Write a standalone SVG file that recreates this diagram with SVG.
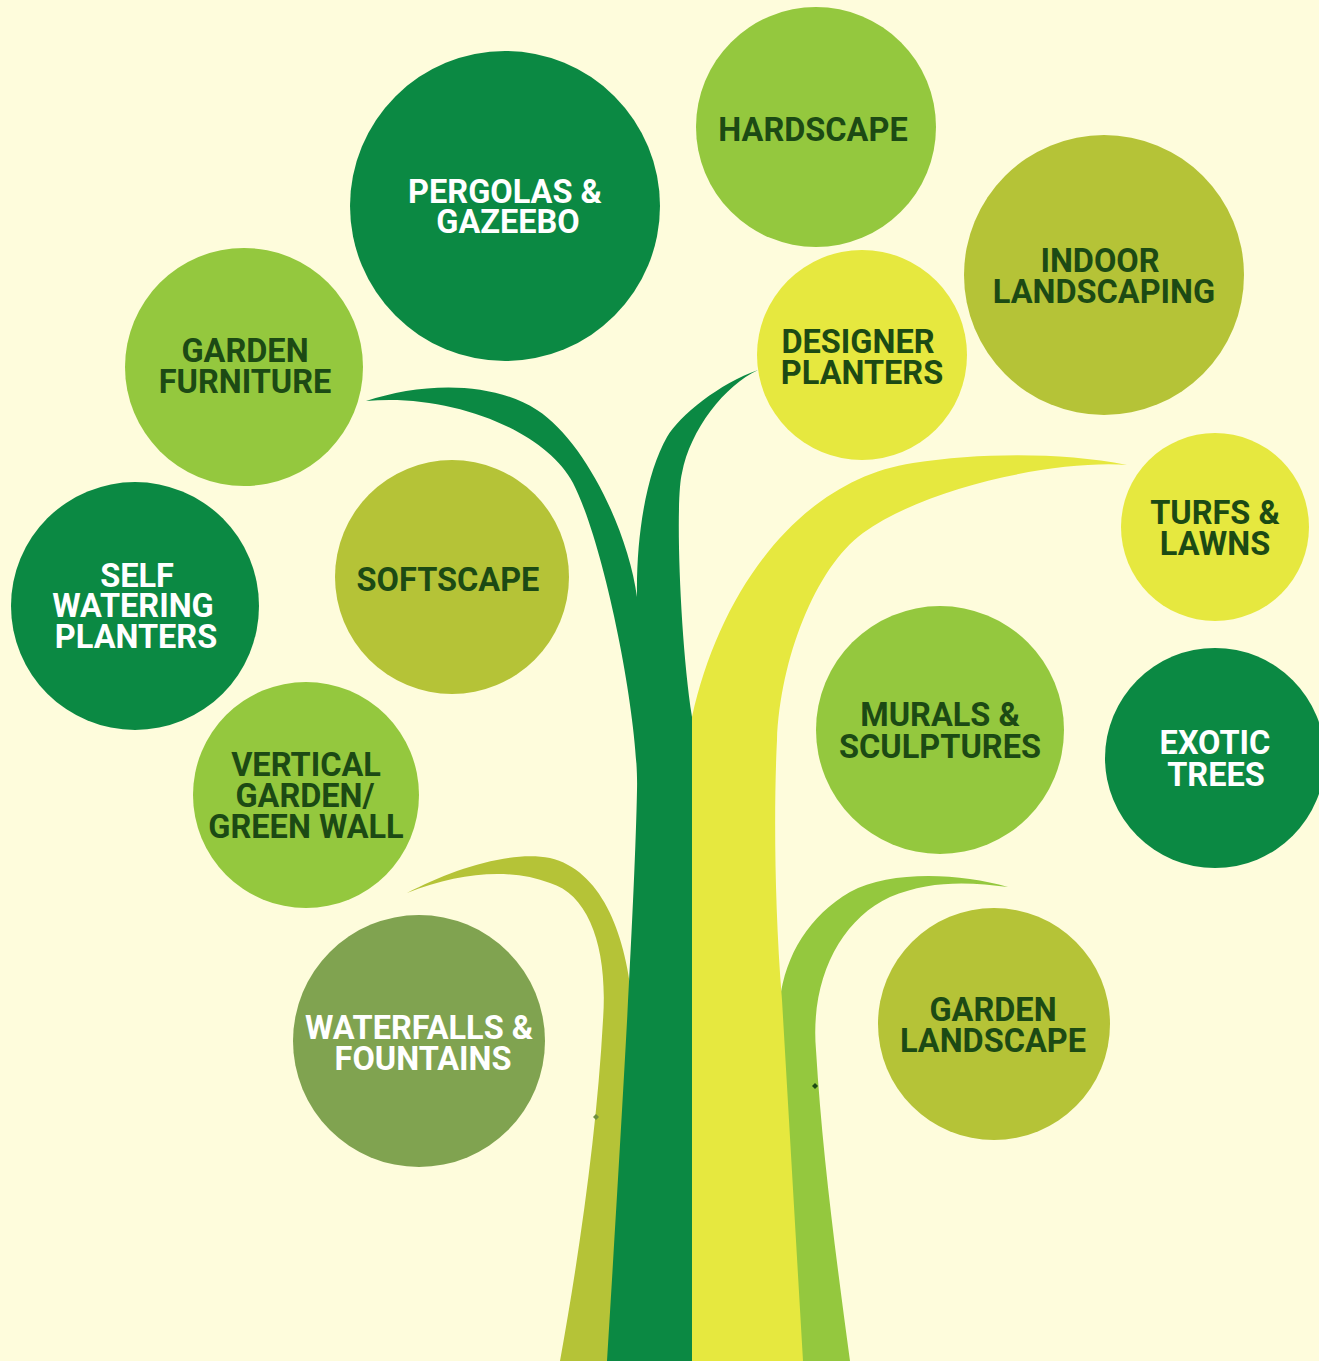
<svg xmlns="http://www.w3.org/2000/svg" width="1319" height="1361" viewBox="0 0 1319 1361">
<style>
.t{font-family:Roboto,"Liberation Sans",Arial,sans-serif;font-weight:700;font-size:32.5px;text-anchor:middle}
.d{fill:#1c4a14}
.w{fill:#ffffff}
.dg{fill:#0b8943}
.lg{fill:#94c83e}
.ol{fill:#b5c337}
.ye{fill:#e6e83f}
.wf{fill:#80a350}
</style>
<rect width="1319" height="1361" fill="#fefcdc"/>
<g id="connectors">
<path class="ol" d="M407,893 C450,870 510,850 550,858 C600,870 625,930 632,1000 L620,1361 L560,1361 C580,1250 597,1130 603,1020 C608,950 590,895 550,883 C510,868 460,872 407,893 Z"/>
<path class="lg" d="M1008,887 C960,873 890,870 850,892 C810,915 785,955 780,1000 L795,1361 L850,1361 C835,1250 822,1150 816,1050 C810,980 840,920 890,897 C930,880 970,882 1008,887 Z"/>
<path class="ye" d="M692,1361 L692,717 C720,590 800,480 913,463 C980,453 1060,452 1127,465 C1060,460 930,485 863,533 C815,568 780,660 777,740 C774,800 774,900 782,1000 L803,1361 Z"/>
<path class="dg" d="M366,401 C420,383 490,380 537,410 C584,440 628,530 637,597 C636,530 648,470 667,437 C679,416 720,383 758,370 C725,385 690,430 682,473 C675,500 680,640 692,717 L692,1361 L607,1361 C620,1150 635,900 637,790 C639,720 605,545 573,483 C545,430 450,393 366,401 Z"/>
<path fill="#6f9040" d="M596,1114 L599,1117 L596,1120 L593,1117 Z"/>
<path fill="#1c4a14" d="M815,1083 L818,1086 L815,1089 L812,1086 Z"/>
</g>
<g id="pergolas"><circle class="dg" cx="505" cy="206" r="155"/><text class="t w" x="505" y="203">PERGOLAS &amp;</text><text class="t w" x="508" y="233">GAZEEBO</text></g>
<g id="hardscape"><circle class="lg" cx="816" cy="127" r="120"/><text class="t d" x="813" y="141">HARDSCAPE</text></g>
<g id="indoor"><circle class="ol" cx="1104" cy="275" r="140"/><text class="t d" x="1100" y="272">INDOOR</text><text class="t d" x="1104" y="303">LANDSCAPING</text></g>
<g id="designer"><circle class="ye" cx="862" cy="355" r="105"/><text class="t d" x="858" y="353">DESIGNER</text><text class="t d" x="862" y="384">PLANTERS</text></g>
<g id="furniture"><circle class="lg" cx="244" cy="367" r="119"/><text class="t d" x="245" y="362">GARDEN</text><text class="t d" x="245" y="393">FURNITURE</text></g>
<g id="turfs"><circle class="ye" cx="1215" cy="527" r="94"/><text class="t d" x="1215" y="524">TURFS &amp;</text><text class="t d" x="1215" y="555">LAWNS</text></g>
<g id="selfwatering"><circle class="dg" cx="135" cy="606" r="124"/><text class="t w" x="137" y="587">SELF</text><text class="t w" x="133" y="617">WATERING</text><text class="t w" x="136" y="648">PLANTERS</text></g>
<g id="softscape"><circle class="ol" cx="452" cy="577" r="117"/><text class="t d" x="448" y="591">SOFTSCAPE</text></g>
<g id="vertical"><circle class="lg" cx="306" cy="795" r="113"/><text class="t d" x="306" y="776">VERTICAL</text><text class="t d" x="305" y="807">GARDEN/</text><text class="t d" x="306" y="838">GREEN WALL</text></g>
<g id="murals"><circle class="lg" cx="940" cy="730" r="124"/><text class="t d" x="940" y="726">MURALS &amp;</text><text class="t d" x="940" y="758">SCULPTURES</text></g>
<g id="exotic"><circle class="dg" cx="1215" cy="758" r="110"/><text class="t w" x="1215" y="754">EXOTIC</text><text class="t w" x="1216" y="786">TREES</text></g>
<g id="waterfalls"><circle class="wf" cx="419" cy="1041" r="126"/><text class="t w" x="419" y="1039">WATERFALLS &amp;</text><text class="t w" x="423" y="1070">FOUNTAINS</text></g>
<g id="gardenlandscape"><circle class="ol" cx="994" cy="1024" r="116"/><text class="t d" x="993" y="1021">GARDEN</text><text class="t d" x="993" y="1052">LANDSCAPE</text></g>
</svg>
